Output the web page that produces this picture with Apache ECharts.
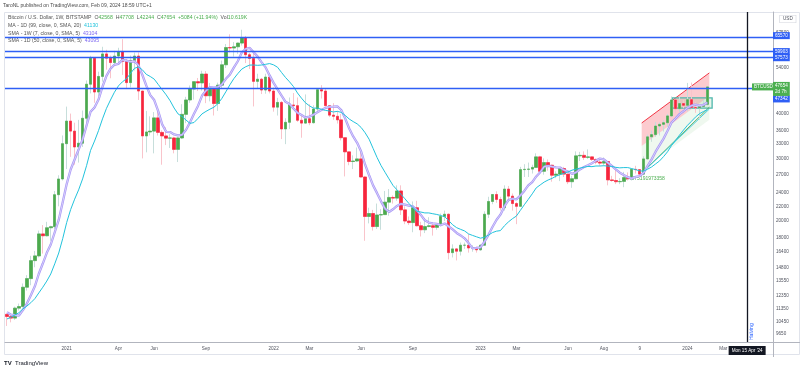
<!DOCTYPE html>
<html><head><meta charset="utf-8">
<script src="https://cdn.jsdelivr.net/npm/echarts@6/dist/echarts.min.js"></script>
<style>html,body{margin:0;padding:0;background:#fff}#c{width:800px;height:370px}</style>
</head><body><div id="c"></div>
<script>
// ---- weekly BTC/USD candles, week starting 2020-09-21 ----
const firstWeek = [2020, 8, 21];
const weekCount = 193; // data + future weeks to the right edge

const openPrices = [
 10930,10780,10670,11380,11500,13030,13780,15480,15960,18400,18180,19150,19280,23720,26260,
 33000,38200,35800,32300,33100,38900,48500,57400,46100,51000,59000,57400,55800,58200,59800,56200,49000,56600,58200,46400,34700,35600,35800,39000,35500,34700,34200,34250,31800,34250,39900,43800,47000,49300,48900,51800,45000,47300,42800,48200,55000,61500,61300,61800,63300,65500,58700,57300,49400,50100,46700,50800,
 46400,41800,43100,36300,37900,42400,42200,38400,37700,38800,37800,41300,46800,46400,42200,39700,39400,38500,34300,31300,29400,29500,29900,26600,20600,21000,19300,20800,20850,22600,23300,23200,24300,21500,20000,19800,21800,19400,18900,19300,19400,19200,19500,20600,20900,16300,16700,16450,17100,17100,16800,16850,
 16600,17100,20900,22700,23750,23000,21800,24600,23500,22400,22000,27900,27950,28000,28300,30300,27600,29200,28700,26900,27100,28100,27100,25800,26300,30500,30600,30200,30300,29800,29300,29100,29400,26100,26000,25800,25850,26500,26300,27950,27900,27100,29900,34500,35000,37000,37400,37800,39500,43800,41400,42800,
 42300,43900,41700,41600,42000,42568
];
const highPrices = [
 10990,10950,11490,11720,13350,14090,15970,16480,18800,19480,19900,19400,24300,26900,34800,
 41950,40100,37800,38500,40900,49700,58300,57500,52600,61800,60600,58400,60200,61400,64900,57100,58400,59500,59600,46400,40800,39400,40500,41300,36000,36700,35100,34500,34500,42600,44700,48100,49400,50500,52900,52800,48900,47400,49000,56500,62900,67000,63700,63500,69000,66300,59400,59100,51900,50500,51900,52100,
 47500,44400,43500,38900,44500,45800,44500,39900,45400,42600,42300,47000,48200,47200,42400,42900,40800,40000,34300,31300,30600,32200,31500,26800,21800,21500,22400,21600,24300,24600,23600,25200,25200,22000,20600,22700,22800,19900,20400,20500,19700,19700,21000,21400,21000,17200,16800,17400,17400,18400,17100,16950,
 17200,21300,23400,23800,24250,23400,25200,25100,23900,22600,28400,28900,29200,28800,31000,30500,30000,29800,28800,27600,28200,28400,27100,26800,31400,31300,31400,31800,30400,30000,30000,30200,29500,26800,28100,26400,27500,27400,28000,28600,28000,30400,35000,35900,38000,37900,38400,40000,44800,44000,44700,43800,
 48900,49000,43200,42300,43800,47708
];
const lowPrices = [
 10140,10380,10550,11210,11420,12750,13200,14830,15800,16200,18100,17600,19000,22000,26000,
 28000,30300,28800,29200,32300,37400,45700,43000,44900,49300,53300,50400,54900,55500,51500,47000,47500,53000,43800,30000,31200,34800,31000,34800,28800,32700,32100,31000,29300,34000,37700,43000,43900,46400,46500,42900,43400,39600,40800,47100,53900,59600,58000,59000,62300,55600,53500,42000,47300,45500,45600,45700,
 40600,39600,34000,32900,36300,41700,38000,34300,37500,37200,37600,40500,44200,42000,39200,38500,37600,33700,26700,28700,28000,29300,26500,17600,19700,18800,19000,18900,20800,20700,22400,22800,20800,19600,19500,18600,19300,18100,18500,19200,18200,18900,19300,20000,15600,15800,15500,16000,16700,16300,16400,16300,
 16500,17100,20400,22300,22500,21400,21400,22800,21400,19600,21900,26600,26600,27200,28200,27100,27000,27700,25800,26400,25900,26600,25400,24800,26200,29500,29700,29900,29500,28900,28600,28700,25200,25800,25400,25400,24900,26000,26000,27200,26500,26900,29800,33400,34500,34800,35700,36800,39300,40200,40500,41500,
 40700,41500,40300,38500,41900,42244
];
const closePrices = [
 10780,10670,11380,11500,13030,13780,15480,15960,18400,18180,19150,19280,23720,26260,33000,
 38200,35800,32300,33100,38900,48500,57400,46100,51000,59000,57400,55800,58200,59800,56200,49000,56600,58200,46400,34700,35600,35800,39000,35500,34700,34200,34250,31800,34250,39900,43800,47000,49300,48900,51800,45000,47300,42800,48200,55000,61500,61300,61800,63300,65500,58700,57300,49400,50100,46700,50800,46400,
 41800,43100,36300,37900,42400,42200,38400,37700,38800,37800,41300,46800,46400,42200,39700,39400,38500,34300,31300,29400,29500,29900,26600,20600,21000,19300,20800,20850,22600,23300,23200,24300,21500,20000,19800,21800,19400,18900,19300,19400,19200,19500,20600,20900,16300,16700,16450,17100,17100,16800,16850,16600,
 17100,20900,22700,23750,23000,21800,24600,23500,22400,22000,27900,27950,28000,28300,30300,27600,29200,28700,26900,27100,28100,27100,25800,26300,30500,30600,30200,30300,29800,29300,29100,29400,26100,26000,25800,25850,26500,26300,27950,27900,27100,29900,34500,35000,37000,37400,37800,39500,43800,41400,42800,42300,
 43900,41700,41600,42000,42568,47654
];
// SMA 7 (purple) and MA 99d (cyan)
const smaPurple = [
 11080,10910,10870,10840,11230,11720,12370,13110,14220,15190,16280,17180,18600,20140,22570,
 25400,27920,29790,31770,33940,37110,40600,41730,43900,47710,51190,53600,54990,55330,56770,56490,56140,56260,54910,51560,48100,45190,43760,40740,37390,35640,35580,35040,34810,34940,36130,37890,40040,42140,44990,46530,47590,47440,47610,48430,50230,51590,53990,56270,59510,61010,61340,59610,58010,55860,54070,51340,
 48930,46900,45030,43290,42670,41440,40300,39710,39100,39310,39800,40430,41030,41570,41860,41940,42040,41040,38830,36400,34590,33190,31360,28800,26900,25190,23960,22720,21680,21210,21580,22050,22360,22250,22100,21990,21430,20810,20100,19800,19690,19640,19470,19690,19310,18940,18520,18220,17880,17340,16760,16800,
 16860,17490,18290,19240,20130,20840,21980,22890,23110,23010,23600,24310,25190,25720,26690,27440,28460,28580,28430,28300,28270,27810,27560,27140,27400,27930,28370,28690,29070,29570,29970,29810,29170,28570,27930,27360,26960,26560,26360,26610,26770,27360,28590,29810,31340,32690,34100,35870,37860,38840,39960,40710,
 41640,42200,42500,42240,42410,43100
];
const maCyan = [
 10610,10730,10890,11050,11330,11530,11790,12100,12560,13030,13560,14200,15160,16260,17840,
 19810,21550,23040,24470,26270,28630,31590,33560,35910,38750,41480,43770,46050,47960,49250,50190,51930,53720,54260,53270,51710,50980,50120,48440,46820,45280,43570,41570,40000,39350,38440,37640,37840,38860,40010,40670,41260,41790,42750,44240,46180,48290,50260,51930,53480,54310,54890,54920,54800,54920,55170,55430,
 54970,54120,52320,50650,49260,47760,45820,44320,43000,42170,41540,41550,41240,40940,40790,40520,40680,40420,39630,38710,38080,37520,36650,35420,33970,32010,30180,28650,27430,26280,25190,24480,23780,23100,22410,21830,21320,21200,21080,21080,20970,20870,20730,20560,20060,19520,19160,18950,18760,18400,18220,18060,
 17900,18010,18260,18560,18730,18800,19390,19880,20300,20650,21420,22220,23010,23850,24790,25270,25740,26090,26370,26750,27000,27250,27500,27800,27990,28180,28340,28480,28440,28560,28560,28610,28550,28470,28310,28220,28270,28270,28090,27890,27670,27640,27980,28390,28950,29520,30360,31320,32610,33720,34880,36030,
 37160,38150,39190,40050,40630,41130
];

const priceTicks = [9650,10450,11350,12350,13550,14800,16400,18000,20000,22000,24000,27000,30000,33000,36000,40000,54000,67500];
const blueLevels = [65570, 59903, 57573, 47342];
const lastPrice = 47654;
const halvingDate = '2024-04-15';
const xLabelDates = ['2021-01-04','2021-04-05','2021-06-07','2021-09-06','2022-01-03','2022-03-07','2022-06-06','2022-09-05','2023-01-02','2023-03-06','2023-06-05','2023-08-07','2023-10-09','2024-01-01','2024-03-04','2024-04-15'];
const xLabelTexts = ['2021','Apr','Jun','Sep','2022','Mar','Jun','Sep','2023','Mar','Jun','Aug','9','2024','Mar',"Mon 15 Apr '24"];

// drawings (week index, price)
const channelX = [159.5, 176.5];
const channelTop = [37730, 52190];
const channelMid = [32500, 44960];
const channelLow = [27810, 38500];
const trendX = [160.3, 176.5];
const trendGreen = [27800, 41800];
const trendCyan = [27800, 41300];
const boxX = [167.2, 177.2];
const boxY = [41560, 44380];
const noteText = '2.4075191973358';
const notePos = [155.2, 26400];

// ---- build ----
const FONT = 'Liberation Sans, Arial, sans-serif';
const HIDDEN = {color: 'rgba(0,0,0,0)', width: 0};
const cats = [];
{ const t0 = Date.UTC(firstWeek[0], firstWeek[1], firstWeek[2]);
  for (let i = 0; i < weekCount; i++) cats.push(new Date(t0 + i * 7 * 86400000).toISOString().slice(0, 10)); }
const labelMap = {};
xLabelDates.forEach((d, k) => labelMap[d] = xLabelTexts[k]);

const wickData = closePrices.map((c, i) => [openPrices[i], c, lowPrices[i], highPrices[i]]);
const bodyData = closePrices.map((c, i) => [openPrices[i], c, Math.min(openPrices[i], c), Math.max(openPrices[i], c)]);

const tickLines = priceTicks.map(v => ({
  yAxis: v, lineStyle: HIDDEN,
  label: {show: true, position: 'end', distance: 3, formatter: String(v), color: '#50535e', fontSize: 4.6, fontFamily: FONT}
}));
const levelOffsets = {65570: [0, -2], 59903: [0, 0], 57573: [0, 0], 47342: [0, 11]};
const levelLines = blueLevels.map(v => ({
  yAxis: v, lineStyle: {color: '#2f5ff5', width: 1.4, type: 'solid'},
  label: {show: true, position: 'end', distance: 0, formatter: String(v), color: '#fff', backgroundColor: '#2f5ff5',
          padding: [1, 2, 1, 2], fontSize: 4.6, fontFamily: FONT, offset: levelOffsets[v]}
}));
const lastLines = [
  {yAxis: lastPrice, lineStyle: HIDDEN,
   label: {show: true, position: 'end', distance: 0, formatter: String(lastPrice) + '\n2d 7h', color: '#fff', backgroundColor: '#4caf50',
           padding: [1, 2, 1, 2], fontSize: 4.6, lineHeight: 6, fontFamily: FONT, offset: [0, 2]}},
  {yAxis: lastPrice, lineStyle: HIDDEN,
   label: {show: true, position: 'end', distance: 0, formatter: 'BTCUSD', color: '#fff', backgroundColor: '#4caf50',
           padding: [1, 2, 1, 2], fontSize: 4.6, fontFamily: FONT, offset: [-21, 0]}}
];
const halvingLine = {
  xAxis: halvingDate, lineStyle: {color: '#131722', width: 1.3, type: 'solid'},
  label: {show: true, position: 'insideStartBottom', formatter: 'Halving', color: '#2962ff', fontSize: 5, fontFamily: FONT, distance: 2}
};

function renderDrawings(params, api) {
  const pt = (x, y) => { const i = Math.floor(x); const a = api.coord([i, y]); const b = api.coord([i + 1, y]); return [a[0] + (x - i) * (b[0] - a[0]), a[1]]; };
  const t0 = pt(channelX[0], channelTop[0]), t1 = pt(channelX[1], channelTop[1]);
  const m0 = pt(channelX[0], channelMid[0]), m1 = pt(channelX[1], channelMid[1]);
  const l0 = pt(channelX[0], channelLow[0]), l1 = pt(channelX[1], channelLow[1]);
  const b0 = pt(boxX[0], boxY[1]), b1 = pt(boxX[1], boxY[0]);
  const n = pt(notePos[0], notePos[1]);
  return {type: 'group', children: [
    {type: 'polygon', shape: {points: [t0, t1, m1, m0]}, style: {fill: 'rgba(242,54,69,0.26)'}},
    {type: 'polygon', shape: {points: [m0, m1, l1, l0]}, style: {fill: 'rgba(76,175,80,0.09)'}},
    {type: 'polyline', shape: {points: [t0, t1]}, style: {stroke: '#f23645', lineWidth: 1, fill: null}},
    {type: 'rect', shape: {x: b0[0], y: b0[1], width: b1[0] - b0[0], height: b1[1] - b0[1]},
     style: {fill: 'rgba(76,175,80,0.12)', stroke: '#4db6ac', lineWidth: 1.3}},
    {type: 'polyline', shape: {points: [pt(trendX[0], trendGreen[0]), pt(trendX[1], trendGreen[1])]}, style: {stroke: '#43a047', lineWidth: 0.8, fill: null}},
    {type: 'polyline', shape: {points: [pt(trendX[0], trendCyan[0]), pt(trendX[1], trendCyan[1])]}, style: {stroke: '#26c6da', lineWidth: 0.8, fill: null}},
    {type: 'text', x: n[0], y: n[1], style: {text: noteText, fill: '#4caf50', fontSize: 5, fontFamily: FONT, verticalAlign: 'middle'}}
  ]};
}

const chart = echarts.init(document.getElementById('c'), null, {renderer: 'canvas'});
chart.setOption({
  animation: false,
  backgroundColor: '#ffffff',
  grid: {left: 5, right: 27, top: 12, bottom: 28, containLabel: false},
  xAxis: {
    type: 'category', data: cats, boundaryGap: true,
    axisLine: {show: true, lineStyle: {color: '#b2b5be', width: 1}},
    axisTick: {show: false}, splitLine: {show: false},
    axisLabel: {
      interval: 0, margin: 4, color: '#50535e', fontSize: 4.6, fontFamily: FONT,
      formatter: v => { const t = labelMap[v]; if (!t) return ''; return v === halvingDate ? '{h|' + t + '}' : t; },
      rich: {h: {backgroundColor: '#131722', color: '#fff', padding: [2, 3, 2, 3], fontSize: 4.6, fontFamily: FONT}}
    }
  },
  yAxis: {
    type: 'log', logBase: 10, min: 9140, max: 77400, position: 'right',
    axisLine: {show: true, lineStyle: {color: '#b2b5be', width: 1}},
    axisTick: {show: false}, axisLabel: {show: false}, splitLine: {show: false}
  },
  series: [
    {type: 'custom', data: [[0, 20000]], renderItem: renderDrawings, z: 1, silent: true, clip: true},
    {type: 'candlestick', data: wickData, barWidth: 3, z: 2, silent: true,
     itemStyle: {color: '#d3e6e3', color0: '#fcd3d8', borderColor: '#c7dedb', borderColor0: '#f9c4cb', borderWidth: 1}},
    {type: 'candlestick', data: bodyData, barWidth: 3, z: 3, silent: true,
     itemStyle: {color: '#4caa4c', color0: '#f7253c', borderColor: '#4caa4c', borderColor0: '#f7253c', borderWidth: 0.6}},
    {type: 'line', data: smaPurple, symbol: 'none', z: 4, silent: true, lineStyle: {color: '#a897f5', width: 2.3}},
    {type: 'line', data: smaPurple, symbol: 'none', z: 5, silent: true, lineStyle: {color: '#ebe6fd', width: 0.7}},
    {type: 'line', data: maCyan, symbol: 'none', z: 5, silent: true, lineStyle: {color: '#22c3dc', width: 1},
     markLine: {silent: true, symbol: ['none', 'none'], animation: false, z: 6,
       data: [...tickLines, ...levelLines, ...lastLines, halvingLine]}}
  ],
  graphic: [
    {type: 'rect', silent: true, shape: {x: 4.5, y: 12.5, width: 795, height: 342}, style: {fill: 'none', stroke: '#e0e3eb', lineWidth: 1}},
    {type: 'line', silent: true, shape: {x1: 773.5, y1: 342, x2: 773.5, y2: 357}, style: {stroke: '#b2b5be', lineWidth: 1}},
    {type: 'line', silent: true, shape: {x1: 773, y1: 342.5, x2: 800, y2: 342.5}, style: {stroke: '#b2b5be', lineWidth: 1}},
    {type: 'text', silent: true, x: 780, y: 19, style: {text: 'USD', fill: '#50535e', fontSize: 4.6, fontFamily: FONT, verticalAlign: 'middle',
      backgroundColor: '#fff', borderColor: '#d1d4dc', borderWidth: 0.6, padding: [1, 3, 1, 3]}},
    {type: 'text', silent: true, x: 3, y: 6, style: {text: 'TaroNL published on TradingView.com, Feb 09, 2024 18:59 UTC+1', fill: '#4a4a4a', fontSize: 5, fontFamily: FONT, verticalAlign: 'middle'}},
    {type: 'text', silent: true, x: 8, y: 18, style: {
      text: '{g|Bitcoin / U.S. Dollar, 1W, BITSTAMP}  {g|O}{v|42568}  {g|H}{v|47708}  {g|L}{v|42244}  {g|C}{v|47654}  {v|+5084 (+11.94%)}  {g|Vol}{v|10.619K}',
      fontSize: 5.2, fontFamily: FONT, verticalAlign: 'middle',
      rich: {g: {fill: '#555', fontSize: 5.2, fontFamily: FONT}, v: {fill: '#4caf50', fontSize: 5.2, fontFamily: FONT}}}},
    {type: 'text', silent: true, x: 8, y: 26, style: {text: '{g|MA - 1D (99, close, 0, SMA, 20)}  {c|41130}', fontSize: 5.2, fontFamily: FONT, verticalAlign: 'middle',
      rich: {g: {fill: '#555', fontSize: 5.2, fontFamily: FONT}, c: {fill: '#22c3dc', fontSize: 5.2, fontFamily: FONT}}}},
    {type: 'text', silent: true, x: 8, y: 33.5, style: {text: '{g|SMA - 1W (7, close, 0, SMA, 5)}  {p|43104}', fontSize: 5.2, fontFamily: FONT, verticalAlign: 'middle',
      rich: {g: {fill: '#555', fontSize: 5.2, fontFamily: FONT}, p: {fill: '#7d67f0', fontSize: 5.2, fontFamily: FONT}}}},
    {type: 'text', silent: true, x: 8, y: 41, style: {text: '{g|SMA - 1D (50, close, 0, SMA, 5)}  {p|43095}', fontSize: 5.2, fontFamily: FONT, verticalAlign: 'middle',
      rich: {g: {fill: '#555', fontSize: 5.2, fontFamily: FONT}, p: {fill: '#7d67f0', fontSize: 5.2, fontFamily: FONT}}}},
    {type: 'text', silent: true, x: 4, y: 363, style: {text: '{b|TV} {t|TradingView}', verticalAlign: 'middle',
      rich: {b: {fill: '#131722', fontSize: 6, fontWeight: 'bold', fontFamily: FONT}, t: {fill: '#131722', fontSize: 6, fontFamily: FONT}}}}
  ]
});
</script>
</body></html>
